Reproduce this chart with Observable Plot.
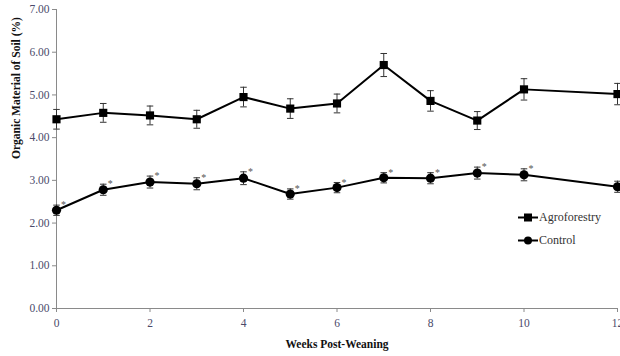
<!DOCTYPE html>
<html>
<head>
<meta charset="utf-8">
<script src="https://cdn.jsdelivr.net/npm/d3@7"></script>
<script src="https://cdn.jsdelivr.net/npm/@observablehq/plot@0.6"></script>
<style>
  html, body { margin: 0; padding: 0; background: #fff; }
  #wrap { position: relative; width: 620px; height: 356px; font-family: 'Liberation Serif', 'DejaVu Serif', serif; }
  #wrap svg, #wrap svg text { font-family: 'Liberation Serif', 'DejaVu Serif', serif !important; }
  #legend { position: absolute; left: 518px; top: 206px; font-size: 12px; color: #333; }
  #legend .row { display: flex; align-items: center; height: 23px; }
  #legend svg { margin-right: 1px; }
</style>
</head>
<body>
<div id="wrap"></div>
<script>
const weeks = [0, 1, 2, 3, 4, 5, 6, 7, 8, 9, 10, 12];
const agroforestry = [4.43, 4.58, 4.52, 4.43, 4.95, 4.68, 4.80, 5.70, 4.86, 4.40, 5.13, 5.02];
const agroforestryErr = [0.23, 0.22, 0.22, 0.21, 0.23, 0.23, 0.22, 0.27, 0.24, 0.21, 0.25, 0.25];
const control = [2.30, 2.78, 2.96, 2.92, 3.05, 2.68, 2.83, 3.06, 3.05, 3.17, 3.13, 2.85];
const controlErr = [0.12, 0.13, 0.14, 0.14, 0.15, 0.12, 0.12, 0.12, 0.13, 0.14, 0.14, 0.13];
const significant = [true, true, true, true, true, true, true, true, true, true, true, false];
const xTicks = [0, 2, 4, 6, 8, 10, 12];
const yTicks = [0, 1, 2, 3, 4, 5, 6, 7];
const seriesNames = ["Agroforestry", "Control"];

const rows = [];
weeks.forEach((w, i) => {
  rows.push({series: seriesNames[0], week: w, value: agroforestry[i], err: agroforestryErr[i], sig: false});
  rows.push({series: seriesNames[1], week: w, value: control[i], err: controlErr[i], sig: significant[i]});
});
const agro = rows.filter(d => d.series === seriesNames[0]);
const ctrl = rows.filter(d => d.series === seriesNames[1]);
const capHalf = 0.07;

const chart = Plot.plot({
  width: 620,
  height: 356,
  marginLeft: 56,
  marginRight: 3,
  marginTop: 9,
  marginBottom: 48,
  style: {fontFamily: "'Liberation Serif', 'DejaVu Serif', serif", fontSize: "11.5px", background: "#fff"},
  x: {domain: [0, 12]},
  y: {domain: [0, 7]},
  marks: [
    Plot.ruleX([0], {stroke: "#8a8a8a", strokeWidth: 1}),
    Plot.ruleY([0], {stroke: "#8a8a8a", strokeWidth: 1}),
    Plot.axisX({ticks: xTicks, tickSize: 4, tickPadding: 6, stroke: "#8a8a8a", fill: "#4a4a6a", fontSize: 11.5, label: null, tickFormat: d3.format("d")}),
    Plot.axisY({ticks: yTicks, tickSize: 4, tickPadding: 3, stroke: "#8a8a8a", fill: "#4a4a6a", fontSize: 11.5, label: null, tickFormat: d3.format(".2f")}),
    // error bars
    Plot.ruleX(rows, {x: "week", y1: d => d.value - d.err, y2: d => d.value + d.err, stroke: "#333", strokeWidth: 1}),
    Plot.link(rows, {x1: d => d.week - capHalf, x2: d => d.week + capHalf, y1: d => d.value + d.err, y2: d => d.value + d.err, stroke: "#333", strokeWidth: 1}),
    Plot.link(rows, {x1: d => d.week - capHalf, x2: d => d.week + capHalf, y1: d => d.value - d.err, y2: d => d.value - d.err, stroke: "#333", strokeWidth: 1}),
    // lines
    Plot.line(agro, {x: "week", y: "value", stroke: "#000", strokeWidth: 2}),
    Plot.line(ctrl, {x: "week", y: "value", stroke: "#000", strokeWidth: 2}),
    // markers
    Plot.dot(agro, {x: "week", y: "value", symbol: "square", r: 4.6, fill: "#000", stroke: "none"}),
    Plot.dot(ctrl, {x: "week", y: "value", symbol: "circle", r: 4.6, fill: "#000", stroke: "none"}),
    // significance asterisks
    Plot.text(ctrl.filter(d => d.sig), {x: "week", y: d => d.value + d.err, text: () => "*", dx: 7, dy: 0, fontSize: 10, fill: "#555"}),
    // axis titles
    Plot.text(["Weeks Post-Weaning"], {frameAnchor: "bottom", dy: 39, fontWeight: "bold", fontSize: 11.5, fill: "#111"}),
    Plot.text(["Organic Material of Soil (%)"], {frameAnchor: "left", dx: -40, rotate: -90, fontWeight: "bold", fontSize: 11.5, fill: "#111"})
  ]
});

const wrap = document.getElementById("wrap");
wrap.appendChild(chart);

const legend = document.createElement("div");
legend.id = "legend";
const symbols = ["square", "circle"];
seriesNames.forEach((name, i) => {
  const row = document.createElement("div");
  row.className = "row";
  const sym = symbols[i] === "square"
    ? '<rect x="6" y="2.5" width="8" height="8" fill="#000"/>'
    : '<circle cx="10" cy="6.5" r="4" fill="#000"/>';
  row.innerHTML = '<svg width="20" height="13"><line x1="0" x2="20" y1="6.5" y2="6.5" stroke="#000" stroke-width="2"/>' + sym + '</svg><span>' + name + '</span>';
  legend.appendChild(row);
});
wrap.appendChild(legend);
</script>
</body>
</html>
